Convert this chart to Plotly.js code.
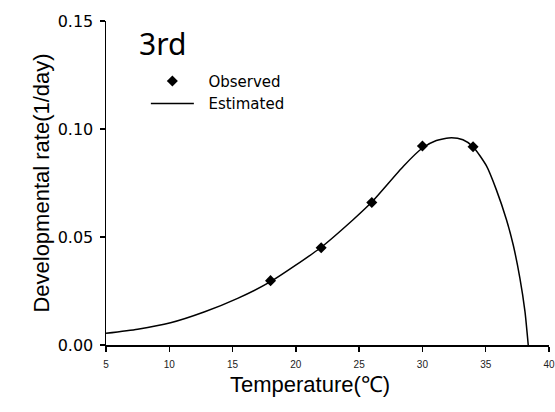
<!DOCTYPE html>
<html>
<head>
<meta charset="utf-8">
<script src="https://cdn.plot.ly/plotly-3.0.1.min.js"></script>
<style>html,body{margin:0;padding:0;background:#fff;}#chart{width:555px;height:412px;}</style>
</head>
<body>
<div id="chart"></div>
<script>
// Observed developmental rates
const obsTemp = [18, 22, 26, 30, 34];
const obsRate = [0.0298, 0.0450, 0.0660, 0.0921, 0.0918];
// Estimated curve
const estTemp = [5, 7.5, 10.1, 12.8, 15.4, 18, 21.9, 24.5, 26, 28.5, 30, 31.1, 32.3, 33.2, 34, 35.06, 35.85, 36.64, 37.17, 37.7, 38.1, 38.36];
const estRate = [0.0054, 0.0073, 0.0103, 0.0154, 0.0216, 0.0293, 0.0448, 0.0579, 0.0662, 0.0828, 0.0912, 0.0947, 0.0960, 0.0950, 0.0918, 0.0829, 0.0717, 0.0580, 0.0464, 0.0310, 0.0156, 0.0];
const xTicks = [5, 10, 15, 20, 25, 30, 35, 40];
const yTicks = [0, 0.05, 0.10, 0.15];
const yTickText = ['0.00', '0.05', '0.10', '0.15'];

const F = 'Liberation Sans, Arial, sans-serif';
const FW = 'DejaVu Sans, sans-serif';
const traces = [
  {x: obsTemp, y: obsRate, mode: 'markers', name: '\u00a0\u00a0Observed', type: 'scatter',
   marker: {symbol: 'diamond', size: 8.5, color: '#000'}},
  {x: estTemp, y: estRate, mode: 'lines', name: '\u00a0\u00a0Estimated', type: 'scatter',
   line: {color: '#000', width: 1.5, shape: 'spline', smoothing: 0.6}}
];
const layout = {
  width: 555, height: 412,
  margin: {l: 106, r: 6, t: 21, b: 67},
  paper_bgcolor: '#fff', plot_bgcolor: '#fff',
  font: {family: F, color: '#000'},
  showlegend: true,
  legend: {x: 0.09, y: 0.865, xanchor: 'left', yanchor: 'top', itemwidth: 43,
           font: {family: FW, size: 15, color: '#000'}, bgcolor: 'rgba(0,0,0,0)', tracegroupgap: 0},
  xaxis: {range: [5, 40], tickvals: xTicks, ticktext: xTicks.map(String),
          showgrid: false, zeroline: false, showline: true, linecolor: '#000', linewidth: 1.5,
          ticks: 'outside', ticklen: 5, tickwidth: 1.5, tickcolor: '#000',
          ticklabelstandoff: 4,
          tickfont: {family: F, size: 10, color: '#222'}},
  yaxis: {range: [0, 0.15], tickvals: yTicks, ticktext: yTickText,
          showgrid: false, zeroline: false, showline: true, linecolor: '#000', linewidth: 1.5,
          ticks: 'outside', ticklen: 5, tickwidth: 1.5, tickcolor: '#000',
          ticklabelstandoff: 3,
          tickfont: {family: FW, size: 16, color: '#000'},
          title: {text: 'Developmental rate(1/day)', font: {family: F, size: 22, color: '#000'}, standoff: 2}},
  annotations: [
    {text: '3rd', xref: 'paper', yref: 'paper', x: 0.07, y: 1.0, xanchor: 'left', yanchor: 'top',
     showarrow: false, font: {family: 'Noto Sans, sans-serif', size: 30, color: '#000'}},
    {text: 'Temperature(℃)', xref: 'paper', yref: 'paper', x: 0.46, y: -0.122, xanchor: 'center', yanchor: 'middle',
     showarrow: false, font: {family: F, size: 22, color: '#000'}}
  ]
};
Plotly.newPlot('chart', traces, layout, {displayModeBar: false, staticPlot: true});
</script>
</body>
</html>
